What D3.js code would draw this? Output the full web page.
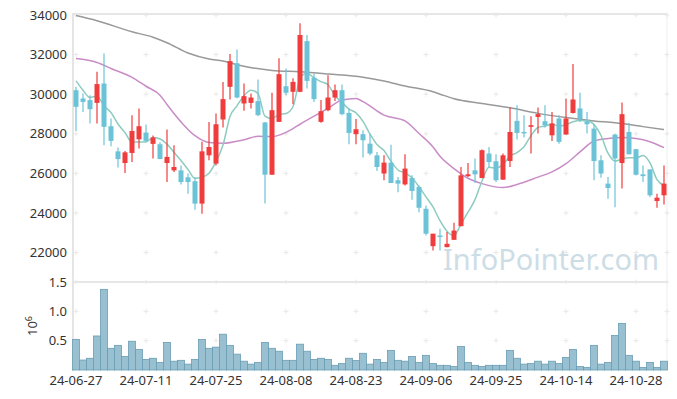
<!DOCTYPE html>
<html>
<head>
<meta charset="utf-8">
<script src="https://cdn.jsdelivr.net/npm/d3@7"></script>
<style>
    body { margin: 0; background: #fff; }
    svg { display: block; font-family: "Noto Sans", sans-serif; }
</style>
</head>
<body>
<svg id="chart" width="677" height="399"></svg>
<script>
// trading days 24-06-27 .. 24-11-01
const dates = [
    "24-06-27", "24-06-28", "24-07-01", "24-07-02", "24-07-03", "24-07-04", "24-07-05", "24-07-08", "24-07-09", "24-07-10",
    "24-07-11", "24-07-12", "24-07-15", "24-07-16", "24-07-17", "24-07-18", "24-07-19", "24-07-22", "24-07-23", "24-07-24",
    "24-07-25", "24-07-26", "24-07-29", "24-07-30", "24-07-31", "24-08-01", "24-08-02", "24-08-05", "24-08-06", "24-08-07",
    "24-08-08", "24-08-09", "24-08-12", "24-08-13", "24-08-14", "24-08-16", "24-08-19", "24-08-20", "24-08-21", "24-08-22",
    "24-08-23", "24-08-26", "24-08-27", "24-08-28", "24-08-29", "24-08-30", "24-09-02", "24-09-03", "24-09-04", "24-09-05",
    "24-09-06", "24-09-09", "24-09-10", "24-09-11", "24-09-12", "24-09-13", "24-09-19", "24-09-20", "24-09-23", "24-09-24",
    "24-09-25", "24-09-26", "24-09-27", "24-09-30", "24-10-02", "24-10-04", "24-10-07", "24-10-08", "24-10-10", "24-10-11",
    "24-10-14", "24-10-15", "24-10-16", "24-10-17", "24-10-18", "24-10-21", "24-10-22", "24-10-23", "24-10-24", "24-10-25",
    "24-10-28", "24-10-29", "24-10-30", "24-10-31", "24-11-01"
];

const open = [
    30200, 29780, 29700, 29560, 30540, 28380, 27110, 26520, 27030, 27720,
    28060, 27490, 27470, 26520, 26150, 26150, 25800, 25600, 24470, 26910,
    26490, 28720, 30370, 31560, 29530, 29560, 29650, 28570, 25930, 28600,
    30400, 30120, 30120, 32680, 30830, 28600, 29190, 29830, 30200, 29050,
    27980, 27980, 27500, 26910, 25990, 26540, 25650, 25440, 25760, 25310,
    24210, 22320, 22860, 22270, 22640, 23330, 25860, 26150, 25760, 27000,
    26610, 25680, 26620, 28650, 28090, 28350, 28850, 28630, 27920, 28770,
    27960, 29050, 29280, 28630, 28260, 26660, 25480, 27960, 26520, 28090,
    27220, 25950, 26200, 24600, 24890
];
const high = [
    30370, 30040, 29950, 31130, 32060, 28770, 27300, 27130, 28940, 29280,
    28470, 27910, 27570, 28210, 27420, 26400, 25990, 25800, 27590, 28600,
    29020, 30620, 32030, 32260, 30540, 30040, 30740, 28600, 30070, 31810,
    31300, 30800, 33580, 32990, 31050, 29700, 30960, 30490, 30490, 29280,
    28740, 28180, 28000, 27080, 26910, 27450, 25810, 26960, 25900, 25390,
    24380, 22950, 23200, 23030, 23500, 26320, 26520, 26750, 27200, 27330,
    26960, 27000, 29330, 29440, 28940, 28890, 29330, 29440, 29100, 28940,
    29780, 31520, 30070, 29100, 28480, 26910, 25810, 28000, 29580, 28550,
    27220, 26400, 26200, 24970, 26400
];
const low = [
    28140, 29100, 28520, 28520, 27420, 27370, 26290, 26020, 26570, 27250,
    27600, 26750, 26720, 25560, 26070, 25430, 24970, 24160, 23960, 26660,
    26400, 28310, 29730, 29800, 29160, 29280, 28890, 24470, 25930, 28600,
    29950, 29490, 30100, 30290, 29610, 28550, 29140, 29650, 28940, 27470,
    27470, 26800, 26910, 26120, 25650, 25510, 25050, 25380, 24670, 24040,
    22860, 22100, 22100, 22270, 22640, 23330, 25810, 25510, 25760, 26290,
    25560, 25680, 26320, 27710, 27810, 27000, 28010, 28310, 27640, 27500,
    27960, 29020, 28600, 28010, 25650, 25780, 24720, 24290, 25230, 26960,
    25900, 25560, 24800, 24260, 24430
];
const close = [
    29360, 29610, 29240, 30510, 28350, 27640, 26720, 27060, 28140, 28380,
    27640, 27810, 26720, 26830, 26320, 25560, 25560, 24470, 27110, 27330,
    28480, 29750, 31670, 29830, 29900, 29830, 28940, 25930, 29190, 31010,
    30070, 30620, 32990, 30670, 29750, 29140, 29830, 30200, 28990, 28040,
    28230, 27670, 27000, 26320, 26540, 25510, 25480, 26240, 25110, 24260,
    22950, 22950, 22780, 22440, 23110, 25900, 25950, 25950, 27170, 26570,
    25650, 26910, 28090, 28040, 28040, 28430, 28990, 28420, 28520, 27590,
    28770, 29730, 28740, 28480, 26620, 25990, 25260, 26750, 28990, 26960,
    25930, 25860, 24890, 24770, 25480
];

// volume, millions of shares
const volume = [
    0.52, 0.17, 0.20, 0.58, 1.375, 0.37, 0.42, 0.23, 0.49, 0.35,
    0.18, 0.20, 0.13, 0.47, 0.15, 0.165, 0.10, 0.18, 0.52, 0.37,
    0.39, 0.61, 0.42, 0.27, 0.15, 0.10, 0.13, 0.47, 0.37, 0.32,
    0.165, 0.165, 0.44, 0.32, 0.18, 0.20, 0.18, 0.08, 0.11, 0.20,
    0.16, 0.285, 0.10, 0.18, 0.13, 0.335, 0.165, 0.15, 0.23, 0.13,
    0.25, 0.11, 0.08, 0.08, 0.06, 0.40, 0.13, 0.08, 0.06, 0.08,
    0.08, 0.08, 0.335, 0.20, 0.10, 0.11, 0.15, 0.10, 0.15, 0.11,
    0.215, 0.35, 0.06, 0.045, 0.42, 0.10, 0.13, 0.59, 0.795, 0.25,
    0.15, 0.045, 0.13, 0.045, 0.15
];

// MA5 for the first 4 days depends on earlier closes
const ma5Head = [30670, 30200, 29830, 29900];

// [day index, value]
const ma20 = [
    [0, 31800], [3, 31600], [5, 31300], [8, 30850], [10, 30400], [12, 29950], [13, 29480], [15, 28600],
    [17, 27900], [19, 27560], [21, 27520], [24, 27700], [26, 27870], [28, 27860], [31, 28260], [32, 28480],
    [36, 29280], [38, 29700], [40, 29780], [41, 29620], [44, 28940], [47, 28650], [49, 28010], [51, 27330],
    [52, 26860], [54, 26240], [56, 25750], [58, 25480], [61, 25280], [63, 25440], [66, 25810], [68, 26070],
    [70, 26490], [72, 27080], [74, 27630], [76, 27760], [78, 27810], [80, 27760], [82, 27600], [84, 27300]
];
const ma60 = [
    [0, 33970], [3, 33710], [8, 33150], [11, 32880], [13, 32600], [16, 32080], [19, 31780], [21, 31680],
    [23, 31490], [28, 31200], [32, 31130], [36, 31020], [41, 30860], [44, 30670], [47, 30410], [51, 30120],
    [52, 30000], [54, 29770], [58, 29530], [62, 29310], [66, 29030], [70, 28820], [74, 28650], [77, 28550],
    [81, 28360], [84, 28210]
];

const priceTicks = [22000, 24000, 26000, 28000, 30000, 32000, 34000];
const volumeTicks = [0.5, 1.0, 1.5];
const labelEvery = 10;

const UP = "#f03c3c";
const DOWN = "#6cc3d8";

function ma5Values() {
    return close.map((c, i) => {
        if (i < 4) return ma5Head[i];
        return d3.mean(close.slice(i - 4, i + 1));
    });
}

function render() {
    const svg = d3.select("#chart");
    const left = 73, right = 667;

    const x = d3.scaleBand()
        .domain(d3.range(dates.length))
        .range([72.5, 667.5]);
    const cx = i => x(i) + x.bandwidth() / 2;

    const y = d3.scaleLinear().domain([22000, 34000]).range([252.5, 15]);
    const yv = d3.scaleLinear().domain([0, 1.5]).range([370, 282]);

    // panel frames
    svg.append("line")
        .attr("x1", left).attr("x2", right).attr("y1", 14).attr("y2", 14)
        .attr("stroke", "#e6e6e6").attr("stroke-width", 2);
    svg.append("line")
        .attr("x1", left).attr("x2", right).attr("y1", yv(1.5)).attr("y2", yv(1.5))
        .attr("stroke", "#e6e6e6").attr("stroke-width", 2);
    svg.append("line")
        .attr("x1", left).attr("x2", left).attr("y1", 13).attr("y2", 371)
        .attr("stroke", "#dcdcdc").attr("stroke-width", 1.5);
    svg.append("line")
        .attr("x1", right).attr("x2", right).attr("y1", 13).attr("y2", 371)
        .attr("stroke", "#eeeeee").attr("stroke-width", 1);

    // grid crosses
    const gridX = d3.range(0, dates.length, labelEvery).map(cx).concat([right]);
    const gridY = priceTicks.map(y).concat(volumeTicks.map(yv));
    const grid = svg.append("g").attr("stroke", "#e8e8e8").attr("stroke-width", 1);
    gridX.forEach(gx => gridY.forEach(gy => {
        grid.append("line").attr("x1", gx - 2.5).attr("x2", gx + 2.5).attr("y1", gy).attr("y2", gy);
        grid.append("line").attr("x1", gx).attr("x2", gx).attr("y1", gy - 2.5).attr("y2", gy + 2.5);
    }));

    // watermark
    svg.append("text")
        .attr("x", 443).attr("y", 269.5)
        .attr("font-size", 29.5)
        .attr("textLength", 216)
        .attr("lengthAdjust", "spacingAndGlyphs")
        .attr("fill", "#cddde6")
        .text("InfoPointer.com");

    // axis labels
    const axisText = svg.append("g").attr("font-size", 13).attr("fill", "#333");
    axisText.selectAll(".pt")
        .data(priceTicks)
        .join("text")
        .attr("x", 67).attr("y", d => y(d)).attr("dy", "0.36em")
        .attr("text-anchor", "end")
        .text(d => d);
    axisText.selectAll(".vt")
        .data(volumeTicks)
        .join("text")
        .attr("x", 67).attr("y", d => yv(d)).attr("dy", "0.36em")
        .attr("text-anchor", "end")
        .text(d3.format(".1f"));
    axisText.selectAll(".xt")
        .data(d3.range(0, dates.length, labelEvery))
        .join("text")
        .attr("x", cx).attr("y", 385)
        .attr("text-anchor", "middle")
        .text(i => dates[i]);

    const unit = axisText.append("text")
        .attr("transform", "translate(37,326) rotate(-90)")
        .attr("text-anchor", "middle");
    unit.append("tspan").text("10");
    unit.append("tspan").attr("font-size", 9).attr("dy", -5).text("6");

    // volume bars
    svg.append("g")
        .selectAll("rect")
        .data(volume)
        .join("rect")
        .attr("x", (d, i) => x(i))
        .attr("width", x.bandwidth())
        .attr("y", d => yv(d))
        .attr("height", d => yv(0) - yv(d))
        .attr("fill", "#99c0d0")
        .attr("stroke", "#6a9db3")
        .attr("stroke-width", 0.8);

    // moving averages
    const line = d3.line()
        .x(d => cx(d[0]))
        .y(d => y(d[1]))
        .curve(d3.curveMonotoneX);

    svg.append("path")
        .attr("d", line(ma60))
        .attr("fill", "none").attr("stroke", "#999").attr("stroke-width", 1.5);
    svg.append("path")
        .attr("d", line(ma20))
        .attr("fill", "none").attr("stroke", "#c98cc6").attr("stroke-width", 1.5);

    const ma5 = ma5Values().map((v, i) => [i, v]);
    svg.append("path")
        .attr("d", line(ma5))
        .attr("fill", "none").attr("stroke", "#8ecbbf").attr("stroke-width", 1.5);

    // candles
    const candle = svg.append("g")
        .selectAll("g")
        .data(dates.map((d, i) => i))
        .join("g")
        .attr("fill", i => close[i] >= open[i] ? UP : DOWN)
        .attr("stroke", i => close[i] >= open[i] ? UP : DOWN);

    candle.append("line")
        .attr("x1", cx).attr("x2", cx)
        .attr("y1", i => y(high[i]))
        .attr("y2", i => y(low[i]))
        .attr("stroke-width", 1.2);

    candle.append("rect")
        .attr("x", i => cx(i) - 2.5)
        .attr("width", 5)
        .attr("y", i => y(Math.max(open[i], close[i])))
        .attr("height", i => Math.max(1.5, Math.abs(y(open[i]) - y(close[i]))))
        .attr("stroke", "none");
}

render();
</script>
</body>
</html>
